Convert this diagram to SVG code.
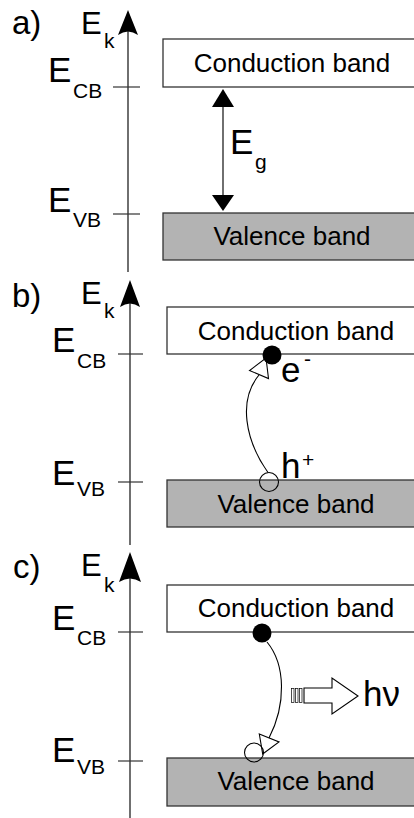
<svg xmlns="http://www.w3.org/2000/svg" width="414" height="818" viewBox="0 0 414 818">
<style>
.t{font-family:"Liberation Sans",Arial,sans-serif;fill:#000}
.big{font-size:35px}
.lab{font-size:33px}
.ek{font-size:31px}
.sub{font-size:21px}
.band{font-size:26px;text-anchor:middle}
.cb{fill:#fff;stroke:#333;stroke-width:1.3}
.vb{fill:#b3b3b3;stroke:#333;stroke-width:1.3}
.ax{stroke:#222;stroke-width:1.3;fill:none}
.tk{stroke:#333;stroke-width:1.2}
.hd{fill:#000}
.hol{fill:#fff;stroke:#000;stroke-width:1.1}
.ho{fill:none;stroke:#000;stroke-width:1.1}
.st{fill:#fff;stroke:#000;stroke-width:0.7}
</style>
<rect width="414" height="818" fill="#fff"/>

<!-- Panel a -->
<g id="a-label"><text class="t lab" x="12" y="34">a)</text></g>
<g id="a-ek"><text class="t ek" x="81" y="34">E</text><text class="t sub" x="104" y="48">k</text></g>
<g id="a-ecb"><text class="t big" x="48" y="82">E</text><text class="t sub" x="73" y="98">CB</text></g>
<g id="a-evb"><text class="t big" x="48" y="212">E</text><text class="t sub" x="73" y="227">VB</text></g>
<g id="a-cband"><rect class="cb" x="163" y="39" width="260" height="48"/><text class="t band" x="292" y="72">Conduction band</text></g>
<g id="a-vband"><rect class="vb" x="163" y="213" width="260" height="47"/><text class="t band" x="292" y="245">Valence band</text></g>
<g id="a-eg"><text class="t big" x="230" y="154">E</text><text class="t sub" x="255" y="169">g</text></g>

<!-- Panel b -->
<g id="b-label"><text class="t lab" x="12" y="307">b)</text></g>
<g id="b-ek"><text class="t ek" x="81" y="304">E</text><text class="t sub" x="104" y="318">k</text></g>
<g id="b-ecb"><text class="t big" x="52" y="352">E</text><text class="t sub" x="77" y="368">CB</text></g>
<g id="b-evb"><text class="t big" x="52" y="485">E</text><text class="t sub" x="77" y="496">VB</text></g>
<g id="b-cband"><rect class="cb" x="167" y="307" width="260" height="47"/><text class="t band" x="296" y="340">Conduction band</text></g>
<g id="b-vband"><rect class="vb" x="167" y="480" width="260" height="47"/><text class="t band" x="296" y="513">Valence band</text></g>

<!-- Panel c -->
<g id="c-label"><text class="t lab" x="13" y="578">c)</text></g>
<g id="c-ek"><text class="t ek" x="81" y="576">E</text><text class="t sub" x="104" y="592">k</text></g>
<g id="c-ecb"><text class="t big" x="52" y="630">E</text><text class="t sub" x="77" y="645">CB</text></g>
<g id="c-evb"><text class="t big" x="52" y="762">E</text><text class="t sub" x="77" y="774">VB</text></g>
<g id="c-cband"><rect class="cb" x="167" y="585" width="260" height="47"/><text class="t band" x="296" y="617">Conduction band</text></g>
<g id="c-vband"><rect class="vb" x="167" y="758" width="260" height="48"/><text class="t band" x="296" y="790">Valence band</text></g>

<g id="connectors">
  <!-- axes -->
  <line class="ax" x1="128" y1="30" x2="128" y2="272"/>
  <path class="hd" d="M128,10 L138,35 Q128,28 118,35 Z"/>
  <line class="tk" x1="113" y1="87" x2="140" y2="87"/>
  <line class="tk" x1="113" y1="214" x2="140" y2="214"/>

  <line class="ax" x1="130" y1="300" x2="130" y2="545"/>
  <path class="hd" d="M130,280 L140,307 Q130,300 120,307 Z"/>
  <line class="tk" x1="118" y1="354" x2="143" y2="354"/>
  <line class="tk" x1="118" y1="482" x2="143" y2="482"/>

  <line class="ax" x1="130" y1="575" x2="130" y2="818"/>
  <path class="hd" d="M130,552 L141,582 Q130,575 119,582 Z"/>
  <line class="tk" x1="118" y1="632" x2="143" y2="632"/>
  <line class="tk" x1="118" y1="761" x2="143" y2="761"/>

  <!-- Eg double arrow -->
  <line class="ax" x1="223" y1="105" x2="223" y2="197"/>
  <path class="hd" d="M223,89 L234,107 L212,107 Z"/>
  <path class="hd" d="M212,195 L234,195 L223,211 Z"/>

  <!-- b excitation -->
  <path class="ho" d="M268,472.5 C245,440 238,400 259,375"/>
  <path class="hol" d="M249.5,370.5 L268.5,378.5 L266,358 Z"/>

  <!-- c recombination -->
  <path class="ho" d="M267,642 C286,665 286,705 269,738"/>
  <path class="hol" d="M259.3,734 L279,742 L262.7,754 Z"/>

  <!-- photon arrow -->
  <path class="hol" d="M304,688 L332,688 L332,678 L358,696 L332,714 L332,703 L304,703 Z"/>
  <rect class="st" x="291.5" y="688.5" width="2.5" height="14"/>
  <rect class="st" x="295.5" y="688.5" width="2.5" height="14"/>
  <rect class="st" x="299.5" y="688.5" width="2.5" height="14"/>
</g>

<g id="b-electron"><circle cx="272" cy="355" r="9.5" fill="#000"/><text class="t big" x="281" y="382">e</text><text class="t sub" x="304" y="366">-</text></g>
<g id="b-hole"><circle class="ho" cx="269" cy="482" r="9.5"/><text class="t big" x="281" y="478">h</text><text class="t sub" x="302" y="467">+</text></g>
<g id="c-electron"><circle cx="262" cy="633" r="9.5" fill="#000"/></g>
<g id="c-hole"><circle class="ho" cx="254" cy="752.5" r="9.5"/></g>
<g id="c-photon"><text class="t big" x="363" y="706">hν</text></g>
</svg>
